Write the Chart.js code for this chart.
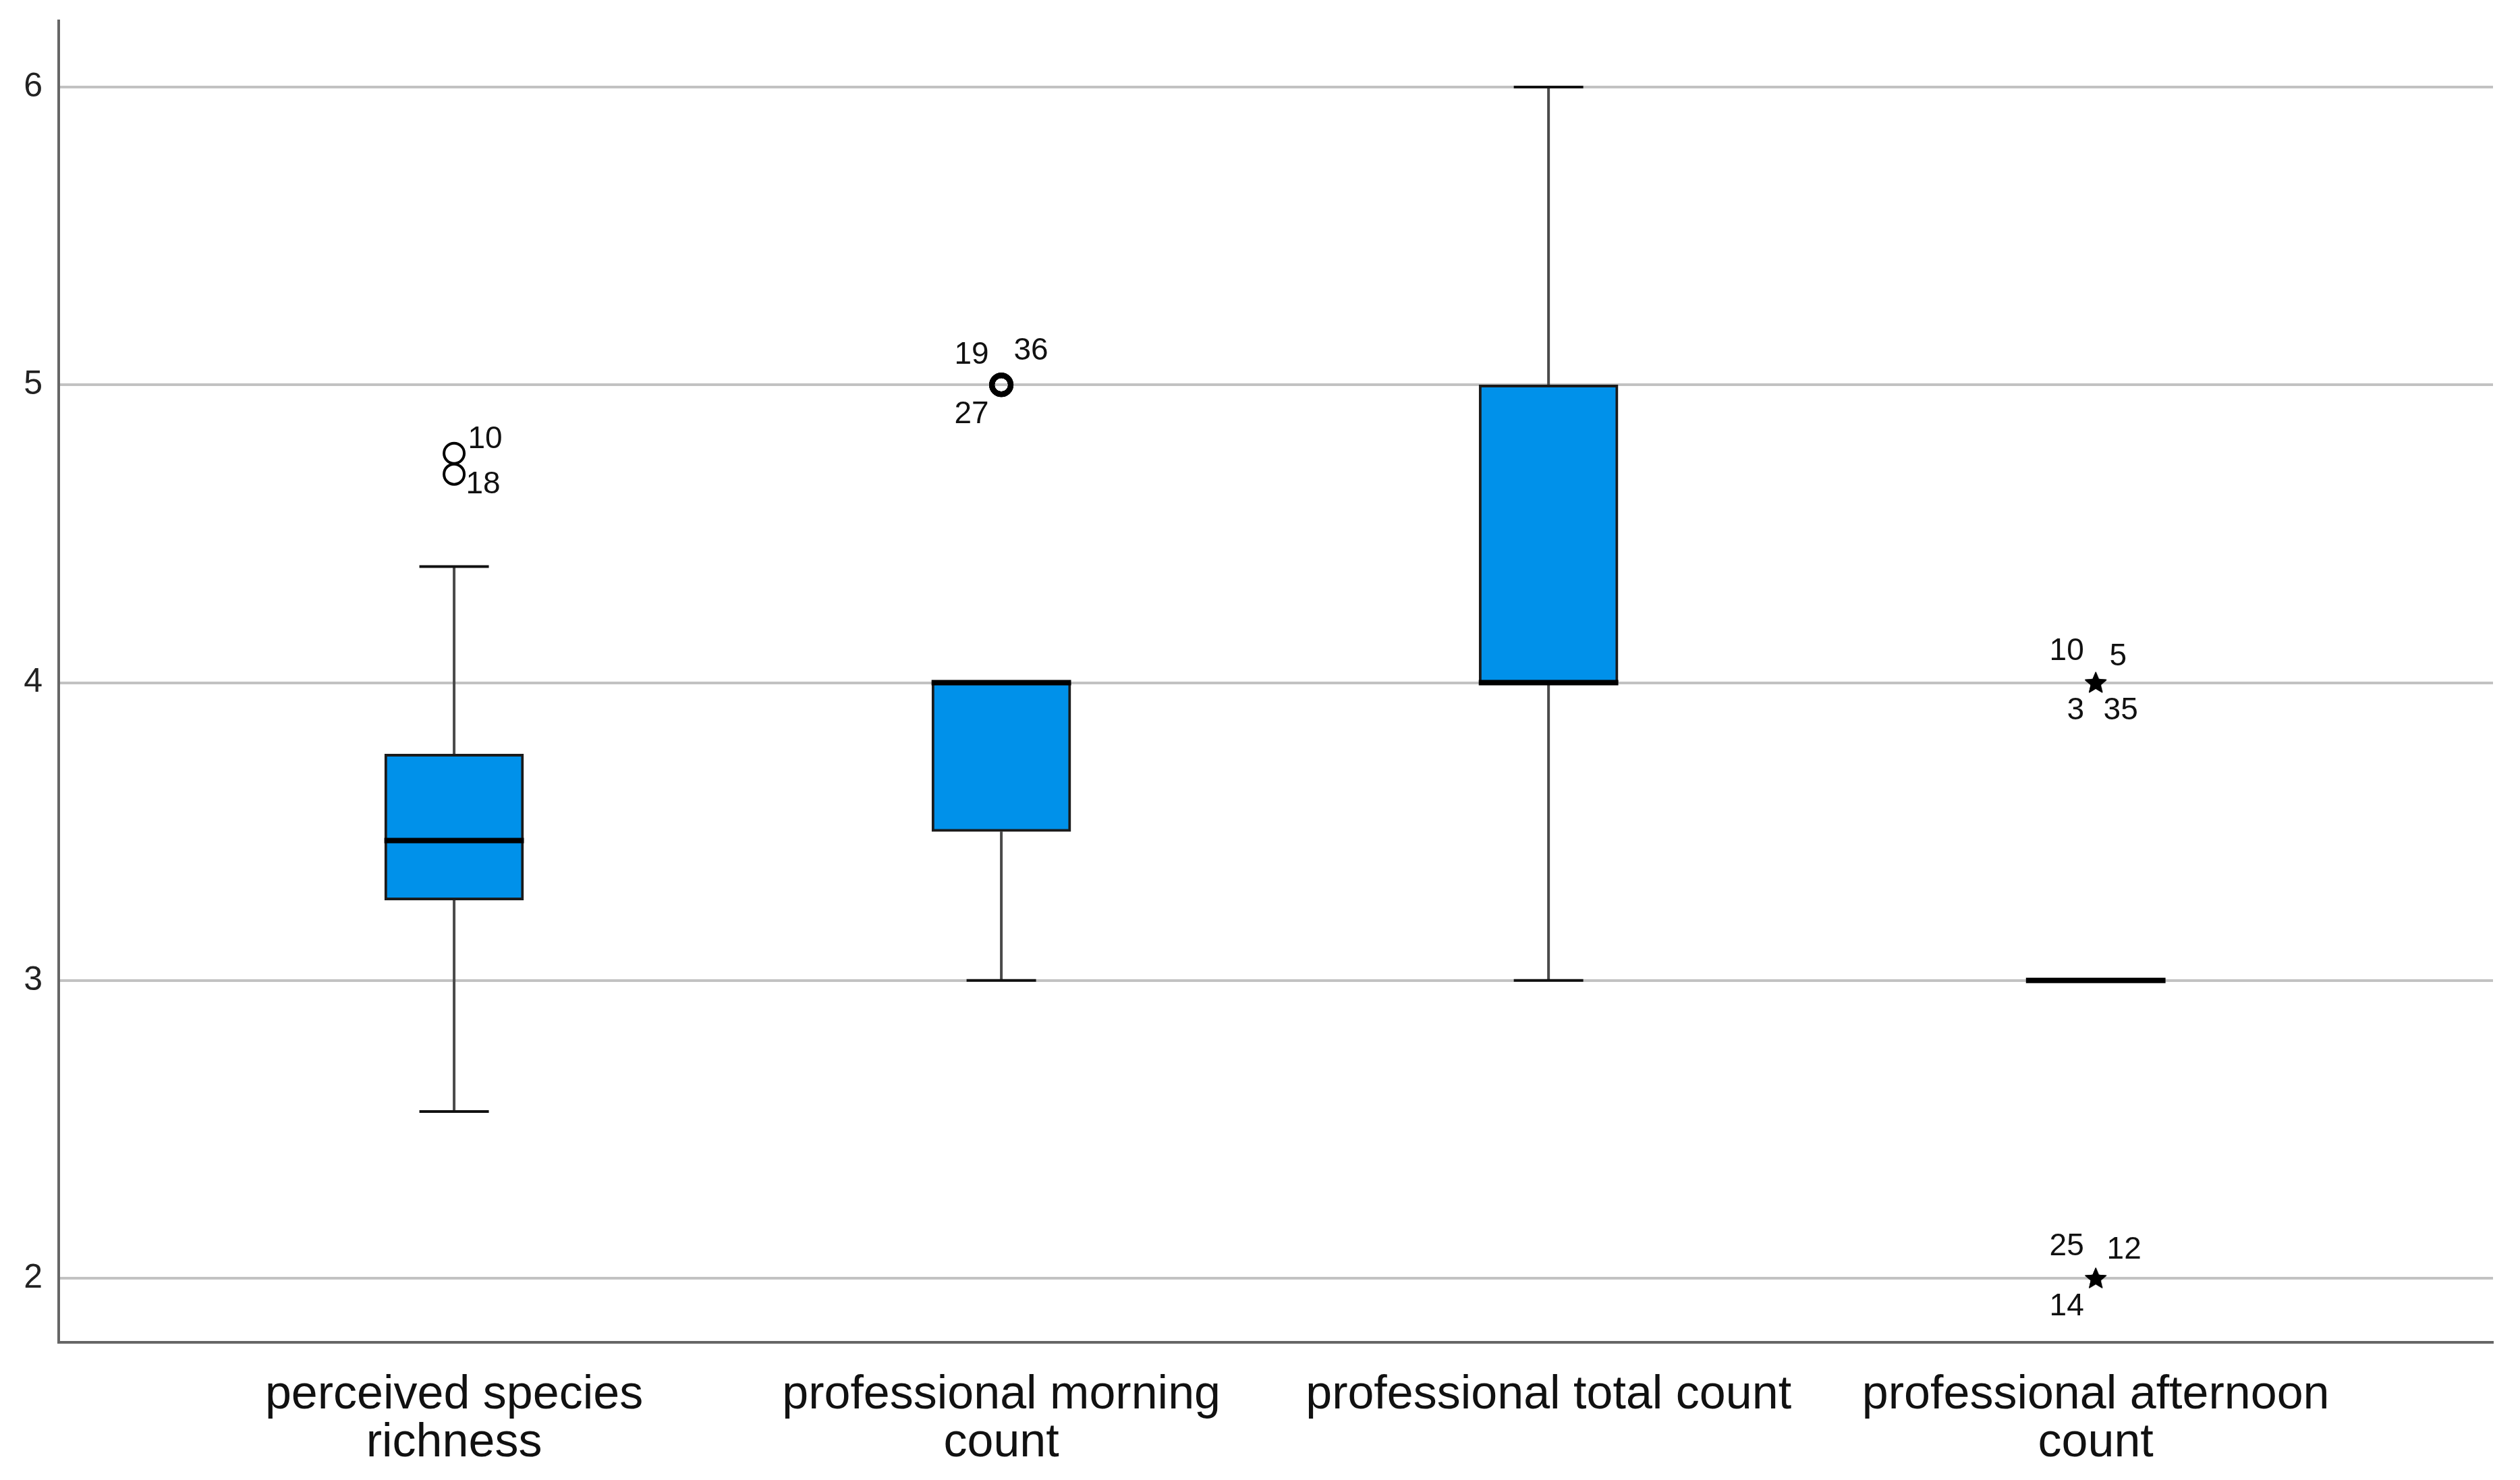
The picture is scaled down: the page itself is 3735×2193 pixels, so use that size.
<!DOCTYPE html>
<html>
<head>
<meta charset="utf-8">
<style>
  html, body { margin: 0; padding: 0; background: #fff; }
  #wrap { width: 3735px; height: 2193px; }
</style>
<script src="https://cdn.jsdelivr.net/npm/chart.js@4/dist/chart.umd.min.js"></script>
</head>
<body>
<div id="wrap"><canvas id="box-chart" width="3735" height="2193"></canvas></div>
<script>
// categories and box statistics
const categories = [
  ["perceived species", "richness"],
  ["professional morning", "count"],
  ["professional total count"],
  ["professional afternoon", "count"]
];
const q1 = [3.27, 3.5, 4.0, 3.0];
const median = [3.47, 4.0, 4.0, 3.0];
const q3 = [3.76, 4.0, 5.0, 3.0];
const whiskerLow = [2.56, 3.0, 3.0, 3.0];
const whiskerHigh = [4.39, 4.0, 6.0, 3.0];
const yTicks = [2, 3, 4, 5, 6];

// outliers (circles) and extremes (stars), with case numbers
const outlierCategory = [0, 0, 1, 1, 1];
const outlierValue = [4.77, 4.70, 5, 5, 5];
const outlierCase = ["10", "18", "19", "36", "27"];
const extremeCategory = [3, 3, 3, 3, 3, 3, 3];
const extremeValue = [4, 4, 4, 4, 2, 2, 2];
const extremeCase = ["10", "5", "3", "35", "25", "12", "14"];

// where each case label sits around its marker (px)
const outlierLabelOffset = [[46, -20], [43, 16], [-44, -44], [44, -50], [-44, 44]];
const extremeLabelOffset = [[-43, -46], [33, -38], [-30, 42], [37, 42], [-43, -47], [42, -42], [-43, 42]];

const boxWidth = 0.255;
const capWidth = 0.127;

function makeStar(size) {
  const c = document.createElement("canvas");
  c.width = size;
  c.height = size;
  const g = c.getContext("2d");
  const cx = size / 2, cy = size / 2 + 1, R = size / 2, r = R * 0.45;
  g.beginPath();
  for (let i = 0; i < 10; i++) {
    const a = -Math.PI / 2 + i * Math.PI / 5;
    const rr = i % 2 === 0 ? R : r;
    g.lineTo(cx + rr * Math.cos(a), cy + rr * Math.sin(a));
  }
  g.closePath();
  g.fillStyle = "#000";
  g.fill();
  return c;
}

const whiskerPlugin = {
  id: "whiskers",
  beforeDatasetsDraw(chart) {
    const ctx = chart.ctx;
    const xs = chart.scales.x, ys = chart.scales.y;
    ctx.save();
    for (let i = 0; i < categories.length; i++) {
      const cx = xs.getPixelForValue(i);
      const half = (xs.getPixelForValue(i + capWidth) - xs.getPixelForValue(i)) / 2;
      if (whiskerHigh[i] > q3[i]) {
        ctx.strokeStyle = "#4a4a4a";
        ctx.lineWidth = 4;
        ctx.beginPath();
        ctx.moveTo(cx, ys.getPixelForValue(q3[i]));
        ctx.lineTo(cx, ys.getPixelForValue(whiskerHigh[i]));
        ctx.stroke();
        ctx.strokeStyle = "#111";
        ctx.beginPath();
        ctx.moveTo(cx - half, ys.getPixelForValue(whiskerHigh[i]));
        ctx.lineTo(cx + half, ys.getPixelForValue(whiskerHigh[i]));
        ctx.stroke();
      }
      if (whiskerLow[i] < q1[i]) {
        ctx.strokeStyle = "#4a4a4a";
        ctx.lineWidth = 4;
        ctx.beginPath();
        ctx.moveTo(cx, ys.getPixelForValue(q1[i]));
        ctx.lineTo(cx, ys.getPixelForValue(whiskerLow[i]));
        ctx.stroke();
        ctx.strokeStyle = "#111";
        ctx.beginPath();
        ctx.moveTo(cx - half, ys.getPixelForValue(whiskerLow[i]));
        ctx.lineTo(cx + half, ys.getPixelForValue(whiskerLow[i]));
        ctx.stroke();
      }
    }
    ctx.restore();
  },
  afterDatasetsDraw(chart) {
    const ctx = chart.ctx;
    const xs = chart.scales.x, ys = chart.scales.y;
    ctx.save();
    // median lines
    ctx.strokeStyle = "#000";
    ctx.lineWidth = 8;
    for (let i = 0; i < categories.length; i++) {
      const left = xs.getPixelForValue(i - boxWidth / 2);
      const right = xs.getPixelForValue(i + boxWidth / 2);
      const y = ys.getPixelForValue(median[i]);
      ctx.beginPath();
      ctx.moveTo(left, y);
      ctx.lineTo(right, y);
      ctx.stroke();
    }
    // case labels
    ctx.fillStyle = "#111";
    ctx.font = "46px 'Liberation Sans', Arial, sans-serif";
    ctx.textAlign = "center";
    ctx.textBaseline = "middle";
    outlierCase.forEach((t, k) => {
      const px = xs.getPixelForValue(outlierCategory[k]);
      const py = ys.getPixelForValue(outlierValue[k]);
      ctx.fillText(t, px + outlierLabelOffset[k][0], py + outlierLabelOffset[k][1]);
    });
    extremeCase.forEach((t, k) => {
      const px = xs.getPixelForValue(extremeCategory[k]);
      const py = ys.getPixelForValue(extremeValue[k]);
      ctx.fillText(t, px + extremeLabelOffset[k][0], py + extremeLabelOffset[k][1]);
    });
    ctx.restore();
  }
};

const starImg = makeStar(34);

new Chart(document.getElementById("box-chart").getContext("2d"), {
  type: "bar",
  data: {
    datasets: [
      {
        type: "scatter",
        label: "outliers A",
        data: outlierCategory.slice(0, 2).map((c, k) => ({ x: c, y: outlierValue[k] })),
        pointStyle: "circle",
        pointRadius: 15,
        borderWidth: 4,
        borderColor: "#000",
        backgroundColor: "rgba(0,0,0,0)"
      },
      {
        type: "scatter",
        label: "outliers B",
        data: outlierCategory.slice(2).map((c, k) => ({ x: c, y: outlierValue[k + 2] })),
        pointStyle: "circle",
        pointRadius: 14,
        borderWidth: 8,
        borderColor: "#000",
        backgroundColor: "rgba(0,0,0,0)"
      },
      {
        type: "scatter",
        label: "extremes",
        data: extremeCategory.map((c, k) => ({ x: c, y: extremeValue[k] })),
        pointStyle: starImg,
        pointRadius: 17
      },
      {
        type: "bar",
        label: "boxes",
        data: categories.map((c, i) => ({ x: i, y: [q1[i], q3[i]] })),
        backgroundColor: "#0091ea",
        borderColor: "#1b1b1b",
        borderWidth: 4,
        borderSkipped: false,
        barThickness: 206
      }
    ]
  },
  options: {
    responsive: false,
    animation: false,
    layout: { padding: { top: 31, right: 40, bottom: 0, left: 0 } },
    plugins: {
      legend: { display: false },
      tooltip: { enabled: false }
    },
    scales: {
      x: {
        type: "linear",
        offset: false,
        min: -0.7226,
        max: 3.726,
        grid: { display: false, drawTicks: false },
        border: { display: true, color: "#666", width: 4 },
        afterBuildTicks: (scale) => { scale.ticks = categories.map((c, i) => ({ value: i })); },
        afterFit: (scale) => { scale.height = 204; scale.paddingLeft = 0; scale.paddingRight = 0; },
        ticks: {
          autoSkip: false,
          maxRotation: 0,
          padding: 43,
          color: "#111",
          font: { family: "'Liberation Sans', Arial, sans-serif", size: 70, lineHeight: 1.02 },
          callback: (v) => categories[v]
        }
      },
      y: {
        min: 1.785,
        max: 6.222,
        afterBuildTicks: (scale) => { scale.ticks = yTicks.map(v => ({ value: v })); },
        afterFit: (scale) => { scale.width = 87; scale.paddingTop = 0; scale.paddingBottom = 0; },
        grid: { color: "#c2c2c2", lineWidth: 4, drawTicks: false },
        border: { display: true, color: "#666", width: 4 },
        ticks: {
          padding: 24,
          color: "#222",
          font: { family: "'Liberation Sans', Arial, sans-serif", size: 50 }
        }
      }
    }
  },
  plugins: [whiskerPlugin]
});
</script>
</body>
</html>
